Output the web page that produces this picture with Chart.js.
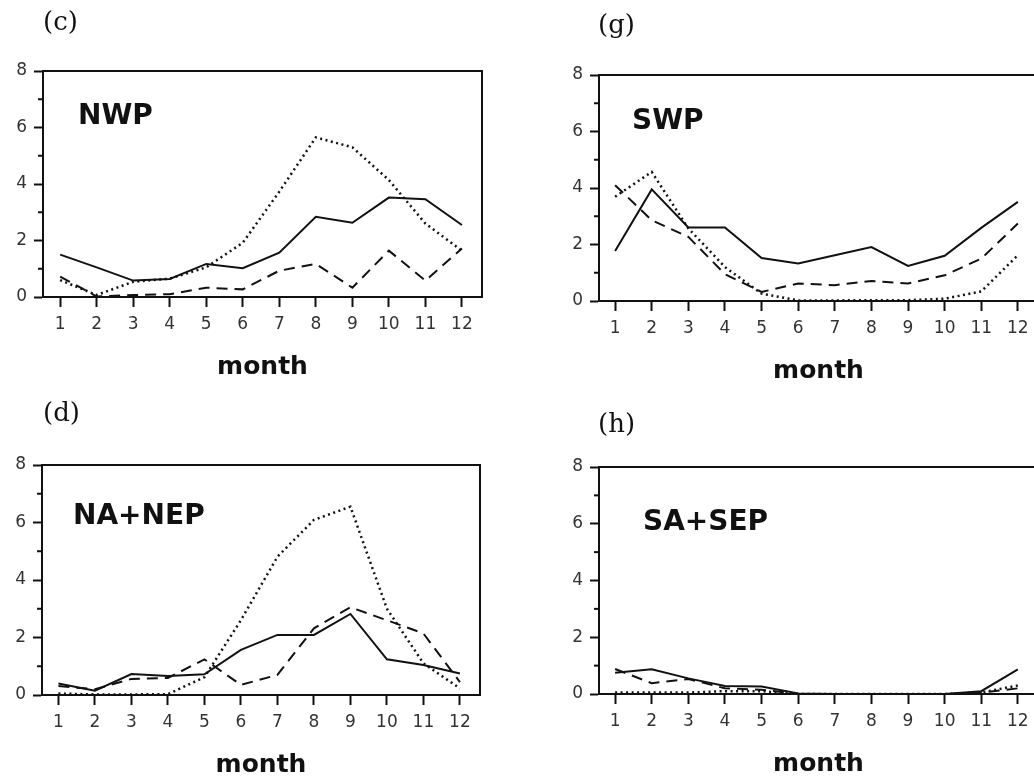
<!DOCTYPE html>
<html><head><meta charset="utf-8">
<script src="https://cdn.jsdelivr.net/npm/chart.js@4.4.0/dist/chart.umd.min.js"></script>
<style>
html,body{margin:0;padding:0;background:#fff;overflow:hidden;width:1034px;height:780px;position:relative;}
canvas{position:absolute;left:0;top:0;}
</style></head><body>
<canvas id="p1" width="1040" height="780"></canvas>
<canvas id="p2" width="1040" height="780"></canvas>
<canvas id="p3" width="1040" height="780"></canvas>
<canvas id="p4" width="1040" height="780"></canvas>
<script>
// ---- data ----
const months = [1,2,3,4,5,6,7,8,9,10,11,12];
const yTicks = [0,1,2,3,4,5,6,7,8];
const yLabels = ['0','','2','','4','','6','','8'];

const nwpSolid  = [1.5,1.05,0.58,0.64,1.17,1.02,1.57,2.84,2.63,3.52,3.46,2.55];
const nwpDashed = [0.72,0.02,0.07,0.1,0.33,0.27,0.93,1.17,0.33,1.64,0.58,1.72];
const nwpDotted = [0.6,0.07,0.54,0.65,1.05,1.92,3.73,5.65,5.3,4.14,2.6,1.64];

const swpSolid  = [1.77,3.95,2.6,2.6,1.52,1.33,1.62,1.91,1.24,1.6,2.59,3.51];
const swpDashed = [4.1,2.86,2.27,0.95,0.32,0.62,0.56,0.71,0.62,0.91,1.5,2.74];
const swpDotted = [3.69,4.57,2.57,1.2,0.26,0.02,0.02,0.03,0.03,0.08,0.34,1.62];

const naSolid  = [0.4,0.15,0.73,0.66,0.72,1.57,2.09,2.09,2.82,1.24,1.04,0.75];
const naDashed = [0.31,0.2,0.56,0.59,1.24,0.35,0.7,2.32,3.05,2.6,2.14,0.45];
const naDotted = [0.05,0.02,0.02,0.03,0.62,2.6,4.81,6.09,6.55,3.0,1.1,0.23];

const saSolid  = [0.75,0.87,0.55,0.28,0.26,0.02,0,0,0,0,0.1,0.87];
const saDashed = [0.88,0.38,0.53,0.2,0.15,0,0,0,0,0,0.05,0.2];
const saDotted = [0.05,0.05,0.05,0.1,0.1,0,0,0,0,0,0.05,0.3];

const panelNames   = ['NWP','SWP','NA+NEP','SA+SEP'];
const panelLetters = ['(c)','(g)','(d)','(h)'];
const xAxisTitle = 'month';

// ---- rendering ----
Chart.defaults.font.family = '"DejaVu Sans", sans-serif';
Chart.defaults.color = '#333';

const framePlugin = {
  id: 'frame',
  afterDraw(chart, args, o) {
    const {ctx, chartArea: a} = chart;
    const ys = chart.scales.y;
    ctx.save();
    ctx.strokeStyle = '#111';
    ctx.lineWidth = 2;
    ctx.beginPath();
    ctx.moveTo(a.left, a.top); ctx.lineTo(a.right, a.top); ctx.lineTo(a.right, a.bottom);
    ctx.stroke();
    yTicks.filter(v => v % 2 === 1).forEach(v => {
      const p = ys.getPixelForValue(v);
      ctx.beginPath(); ctx.moveTo(a.left - 5, p); ctx.lineTo(a.left, p); ctx.stroke();
    });
    ctx.fillStyle = '#111';
    ctx.textBaseline = 'middle';
    ctx.textAlign = 'left';
    ctx.font = '26px "DejaVu Serif", serif';
    ctx.fillText(o.letter, a.left + o.lx, a.top + o.ly);
    ctx.font = 'bold 28px "DejaVu Sans", sans-serif';
    ctx.fillText(o.name, a.left + o.nx, a.top + o.ny);
    ctx.restore();
  }
};

function series(arr, kind) {
  const ds = {
    data: months.map((m, i) => ({x: m, y: arr[i]})),
    borderColor: '#111', pointRadius: 0, tension: 0, fill: false, borderWidth: 2
  };
  if (kind === 'dashed') { ds.borderDash = [11, 7]; ds.borderWidth = 2; }
  if (kind === 'dotted') { ds.borderDash = [2, 3.5]; ds.borderWidth = 2.5; }
  return ds;
}

function makePanel(id, idx, s, d, t, pad, xmin, xmax, lab) {
  new Chart(document.getElementById(id), {
    type: 'line',
    data: { datasets: [series(s,'solid'), series(d,'dashed'), series(t,'dotted')] },
    plugins: [framePlugin],
    options: {
      responsive: false, animation: false, devicePixelRatio: 1,
      layout: { padding: pad },
      plugins: {
        legend: {display: false}, tooltip: {enabled: false},
        frame: { letter: panelLetters[idx], name: panelNames[idx], ...lab }
      },
      scales: {
        x: {
          type: 'linear', min: xmin, max: xmax,
          afterBuildTicks: sc => { sc.ticks = months.map(v => ({value: v})); },
          afterFit: sc => { sc.height = 85; },
          ticks: { autoSkip: false, maxRotation: 0, padding: 7, color: '#333',
                   font: {size: 17}, callback: v => String(v) },
          grid: { display: true, drawOnChartArea: false, drawTicks: true,
                  tickLength: 10, tickWidth: 2, tickColor: '#111' },
          border: { display: true, color: '#111', width: 2 },
          title: { display: true, text: xAxisTitle, color: '#111',
                   font: {size: 25, weight: 'bold'}, padding: 0 }
        },
        y: {
          min: 0, max: 8,
          afterBuildTicks: sc => { sc.ticks = yTicks.map(v => ({value: v})); },
          afterFit: sc => { sc.width = 40; },
          ticks: { autoSkip: false, padding: 7, color: '#333', font: {size: 17},
                   callback: (v, i) => yLabels[yTicks.indexOf(v)] },
          grid: { display: true, drawOnChartArea: false, drawTicks: true,
                  tickLength: 9, tickWidth: 2,
                  tickColor: c => (c.tick && c.tick.value % 2 === 1) ? 'rgba(0,0,0,0)' : '#111' },
          border: { display: true, color: '#111', width: 2 }
        }
      }
    }
  });
}

makePanel('p1', 0, nwpSolid, nwpDashed, nwpDotted,
  {left: 3, top: 71, right: 558, bottom: 398}, 0.53, 12.55,
  {lx: 0, ly: -48, nx: 35, ny: 46});
makePanel('p2', 1, swpSolid, swpDashed, swpDotted,
  {left: 559, top: 75, right: 2, bottom: 394}, 0.56, 12.55,
  {lx: -1, ly: -49, nx: 33, ny: 47});
makePanel('p3', 2, naSolid, naDashed, naDotted,
  {left: 2, top: 465, right: 560, bottom: 0}, 0.55, 12.55,
  {lx: 1, ly: -51, nx: 31, ny: 52});
makePanel('p4', 3, saSolid, saDashed, saDotted,
  {left: 559, top: 467, right: 2, bottom: 1}, 0.56, 12.55,
  {lx: -1, ly: -42, nx: 44, ny: 56});
</script>
</body></html>
